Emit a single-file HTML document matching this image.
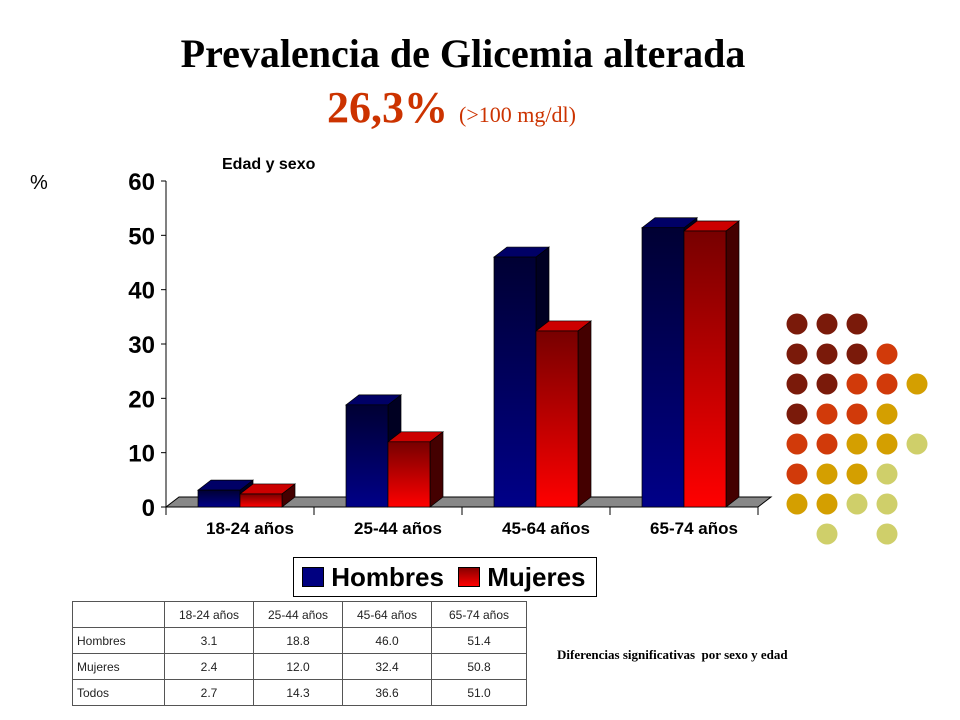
<!DOCTYPE html>
<html><head><meta charset="utf-8"><style>
body{margin:0;background:#fff;width:960px;height:720px;overflow:hidden;position:relative;font-family:"Liberation Sans",sans-serif}
.t{position:absolute;white-space:nowrap}
table{position:absolute;left:72px;top:601px;border-collapse:collapse;font-size:12px;color:#222}
td{border:1.5px solid #555;height:25px;padding:0;text-align:center}
td.l{text-align:left;padding-left:4px}
</style></head><body>
<div class="t" style="left:0;width:926px;text-align:center;top:30px;font:bold 40px 'Liberation Serif',serif;color:#000">Prevalencia de Glicemia alterada</div>
<div class="t" style="left:327px;top:82px;font:bold 44px 'Liberation Serif',serif;color:#cc3300">26,3% <span style="font-weight:normal;font-size:22px">(&gt;100 mg/dl)</span></div>
<div class="t" style="left:30px;top:172px;font-size:20px">%</div>
<div class="t" style="left:222px;top:156px;font-weight:bold;font-size:16px">Edad y sexo</div>
<svg id="chart" width="960" height="720" style="position:absolute;left:0;top:0">
<defs>
<linearGradient id="gb" x1="0" y1="0" x2="0" y2="1"><stop offset="0" stop-color="#000033"/><stop offset="1" stop-color="#000088"/></linearGradient>
<linearGradient id="gr" x1="0" y1="0" x2="0" y2="1"><stop offset="0" stop-color="#770000"/><stop offset="1" stop-color="#ff0000"/></linearGradient>
</defs>
</svg>
<div style="position:absolute;left:293px;top:557px;width:302px;height:38px;border:1.5px solid #000;font-weight:bold;font-size:26px">
<span style="position:absolute;left:8px;top:4px"><span style="display:inline-block;width:20px;height:18px;background:#000080;border:1px solid #000;vertical-align:-1px"></span> Hombres</span>
<span style="position:absolute;left:164px;top:4px"><span style="display:inline-block;width:20px;height:18px;background:linear-gradient(#880000,#ff0000);border:1px solid #000;vertical-align:-1px"></span> Mujeres</span>
</div>
<table>
<tr><td style="width:91px"></td><td style="width:88px">18-24 años</td><td style="width:88px">25-44 años</td><td style="width:88px">45-64 años</td><td style="width:94px">65-74 años</td></tr>
<tr><td class="l">Hombres</td><td>3.1</td><td>18.8</td><td>46.0</td><td>51.4</td></tr>
<tr><td class="l">Mujeres</td><td>2.4</td><td>12.0</td><td>32.4</td><td>50.8</td></tr>
<tr><td class="l">Todos</td><td>2.7</td><td>14.3</td><td>36.6</td><td>51.0</td></tr>
</table>
<div class="t" style="left:557px;top:647px;font:bold 13px 'Liberation Serif',serif">Diferencias significativas &nbsp;por sexo y edad</div>
<script>
const categories=["18-24 años","25-44 años","45-64 años","65-74 años"];
const hombres=[3.1,18.8,46.0,51.4];
const mujeres=[2.4,12.0,32.4,50.8];
const yTicks=[0,10,20,30,40,50,60];
const svg=document.getElementById('chart');const NS='http://www.w3.org/2000/svg';
const X0=166,Y0=507,PX=326/60,CW=148,DX=13,DY=10;
const y=v=>Y0-v*PX;
function mk(t,a,p){const e=document.createElementNS(NS,t);for(const k in a)e.setAttribute(k,a[k]);(p||svg).appendChild(e);return e;}
let f=mk('polygon',{points:`${X0},${Y0} ${X0+DX},${Y0-DY} ${X0+4*CW+DX},${Y0-DY} ${X0+4*CW},${Y0}`,fill:'#888',stroke:'#000','stroke-width':1});


mk('line',{x1:X0,y1:y(60),x2:X0,y2:Y0+8,stroke:'#000'});
mk('line',{x1:X0,y1:Y0,x2:X0+4*CW,y2:Y0,stroke:'#000'});
yTicks.forEach(v=>{mk('line',{x1:X0-5,y1:y(v),x2:X0,y2:y(v),stroke:'#000'});
let t=mk('text',{x:155,y:y(v)+9,'text-anchor':'end','font-size':24,'font-weight':'bold','font-family':'Liberation Sans,sans-serif'});t.textContent=v;

});
for(let i=0;i<=4;i++)mk('line',{x1:X0+i*CW,y1:Y0,x2:X0+i*CW,y2:Y0+8,stroke:'#000'});
function bar(x,v,grad,top,side,name){const g=mk('g',{});


const w=42,t=y(v);
mk('polygon',{points:`${x+w},${t} ${x+w+DX},${t-DY} ${x+w+DX},${Y0-DY} ${x+w},${Y0}`,fill:side,stroke:'#000','stroke-width':0.7},g);
mk('polygon',{points:`${x},${t} ${x+DX},${t-DY} ${x+w+DX},${t-DY} ${x+w},${t}`,fill:top,stroke:'#000','stroke-width':0.7},g);
mk('rect',{x:x,y:t,width:w,height:Y0-t,fill:grad,stroke:'#000','stroke-width':0.7},g);}
categories.forEach((c,i)=>{const gx=X0+i*CW+32;
bar(gx,hombres[i],'url(#gb)','#000066','#000022','bar-hombres-'+i);
bar(gx+42,mujeres[i],'url(#gr)','#cc0000','#440000','bar-mujeres-'+i);
let t=mk('text',{x:X0+i*CW+CW/2+10,y:Y0+27,'text-anchor':'middle','font-size':17,'font-weight':'bold','font-family':'Liberation Sans,sans-serif'});t.textContent=c;

});
// decorative dots
const dotRows=["DDD","DDDO","DDOOG","DOOG","OOGGP","OGGP","GGPP","_P_P"];
const col={D:'#7a1a0a',O:'#d13a0a',G:'#d49f00',P:'#cfcf6a'};
dotRows.forEach((r,ri)=>[...r].forEach((ch,ci)=>{if(ch==='_')return;
const c=mk('circle',{cx:797+ci*30,cy:324+ri*30,r:10.5,fill:col[ch]});

}));
</script>
</body></html>
